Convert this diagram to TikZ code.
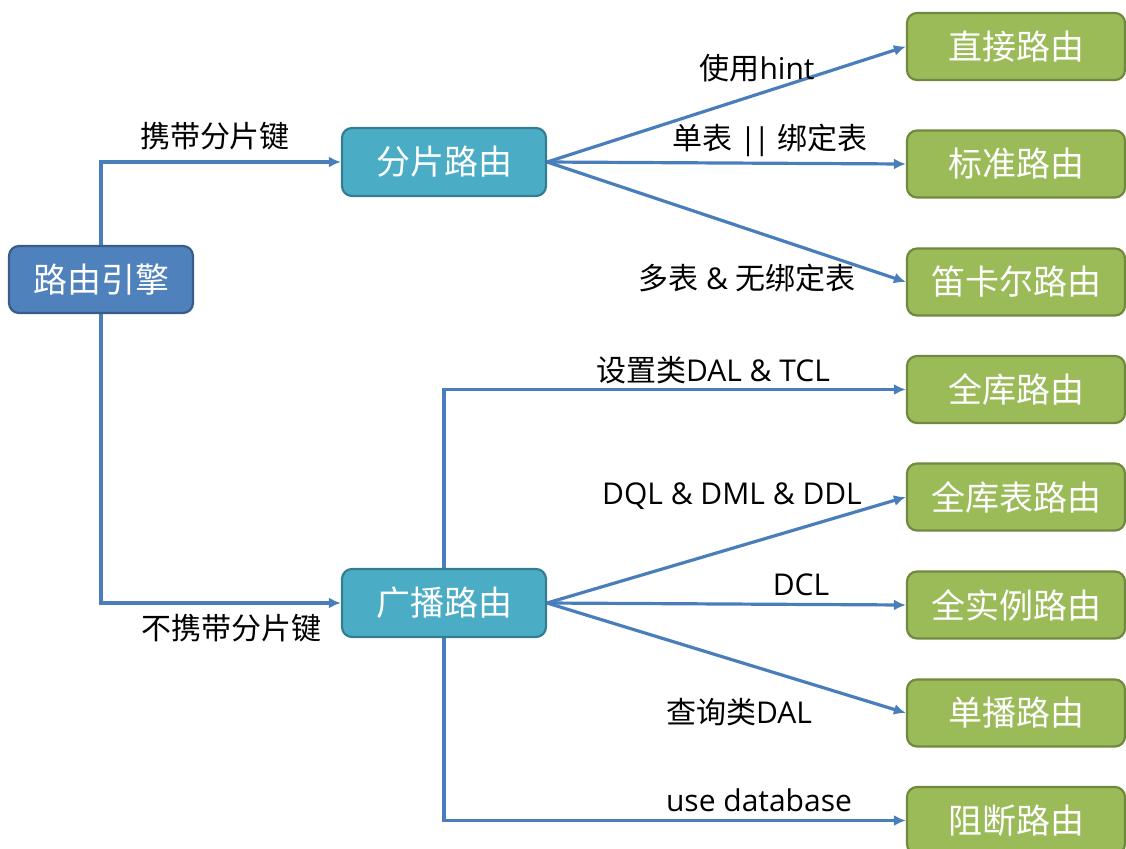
\documentclass[tikz,border=0pt]{standalone}
\usepackage{fontspec}
\setmainfont{Open Sans}
\newfontfamily\cjk{Noto Sans CJK SC}
\usetikzlibrary{arrows.meta}

\definecolor{engineblue}{HTML}{4F81BD}
\definecolor{engineedge}{HTML}{385D8A}
\definecolor{routeteal}{HTML}{4BACC6}
\definecolor{routeedge}{HTML}{357D91}
\definecolor{leafgreen}{HTML}{9BBB59}
\definecolor{leafedge}{HTML}{71893F}
\definecolor{linkblue}{HTML}{4A7EBB}

\tikzset{
    box/.style={rounded corners=5pt, line width=1.1pt, text=white, inner sep=0pt,
        minimum height=33.5pt, font=\fontsize{17}{20}\selectfont\cjk},
    engine/.style={box, fill=engineblue, draw=engineedge, minimum width=92pt},
    route/.style={box, fill=routeteal, draw=routeedge, minimum width=102pt, minimum height=34pt},
    leaf/.style={box, fill=leafgreen, draw=leafedge, minimum width=109pt},
    link/.style={draw=linkblue, line width=1.6pt, -{Latex[length=6pt,width=5.5pt]}},
    cond/.style={inner sep=0pt, font=\fontsize{15}{18}\selectfont}
}

\begin{document}
\begin{tikzpicture}[x=0.5pt, y=-0.5pt]
        \clip (0, 0) rectangle (1126, 848);
        % Paths, nodes and wires:
        \draw node[engine] (N1) at (101, 279.5) {路由引擎};
        \draw node[route] (N2) at (444, 162) {分片路由};
        \draw node[route] (N3) at (444, 603) {广播路由};
        \draw node[leaf] (N4) at (1016, 46.5) {直接路由};
        \draw node[leaf] (N5) at (1016, 164) {标准路由};
        \draw node[leaf] (N6) at (1016, 282) {笛卡尔路由};
        \draw node[leaf] (N7) at (1016, 389.5) {全库路由};
        \draw node[leaf] (N8) at (1016, 497) {全库表路由};
        \draw node[leaf] (N9) at (1016, 605) {全实例路由};
        \draw node[leaf] (N10) at (1016, 713) {单播路由};
        \draw node[leaf] (N11) at (1016, 820.5) {阻断路由};
        \draw[link] (N1.north) |- (N2.west);
        \draw[link] (N1.south) |- (N3.west);
        \foreach \n in {N4, N5, N6}
            \draw[link] (N2.east) -- (\n.west);
        \draw[link] (N3.north) |- (N7.west);
        \foreach \n in {N8, N9, N10}
            \draw[link] (N3.east) -- (\n.west);
        \draw[link] (N3.south) |- (N11.west);
        \draw node[cond] (T1) at (215, 136) {\cjk 携带分片键};
        \draw node[cond] (T2) at (231, 628) {\cjk 不携带分片键};
        \draw node[cond] (T3) at (757, 68) {{\cjk 使用}hint};
        \draw node[cond] (T4) at (770, 140) {{\cjk 单表} |\kern-1.5pt| {\cjk 绑定表}};
        \draw node[cond] (T5) at (747, 278) {{\cjk 多表} \& {\cjk 无绑定表}};
        \draw node[cond] (T6) at (713, 370) {{\cjk 设置类}DAL \& TCL};
        \draw node[cond] (T7) at (732, 496) {DQL \& DML \& DDL};
        \draw node[cond] (T8) at (801, 585) {DCL};
        \draw node[cond] (T9) at (739, 712) {{\cjk 查询类}DAL};
        \draw node[cond] (T10) at (759, 800) {use database};
\end{tikzpicture}
\end{document}
